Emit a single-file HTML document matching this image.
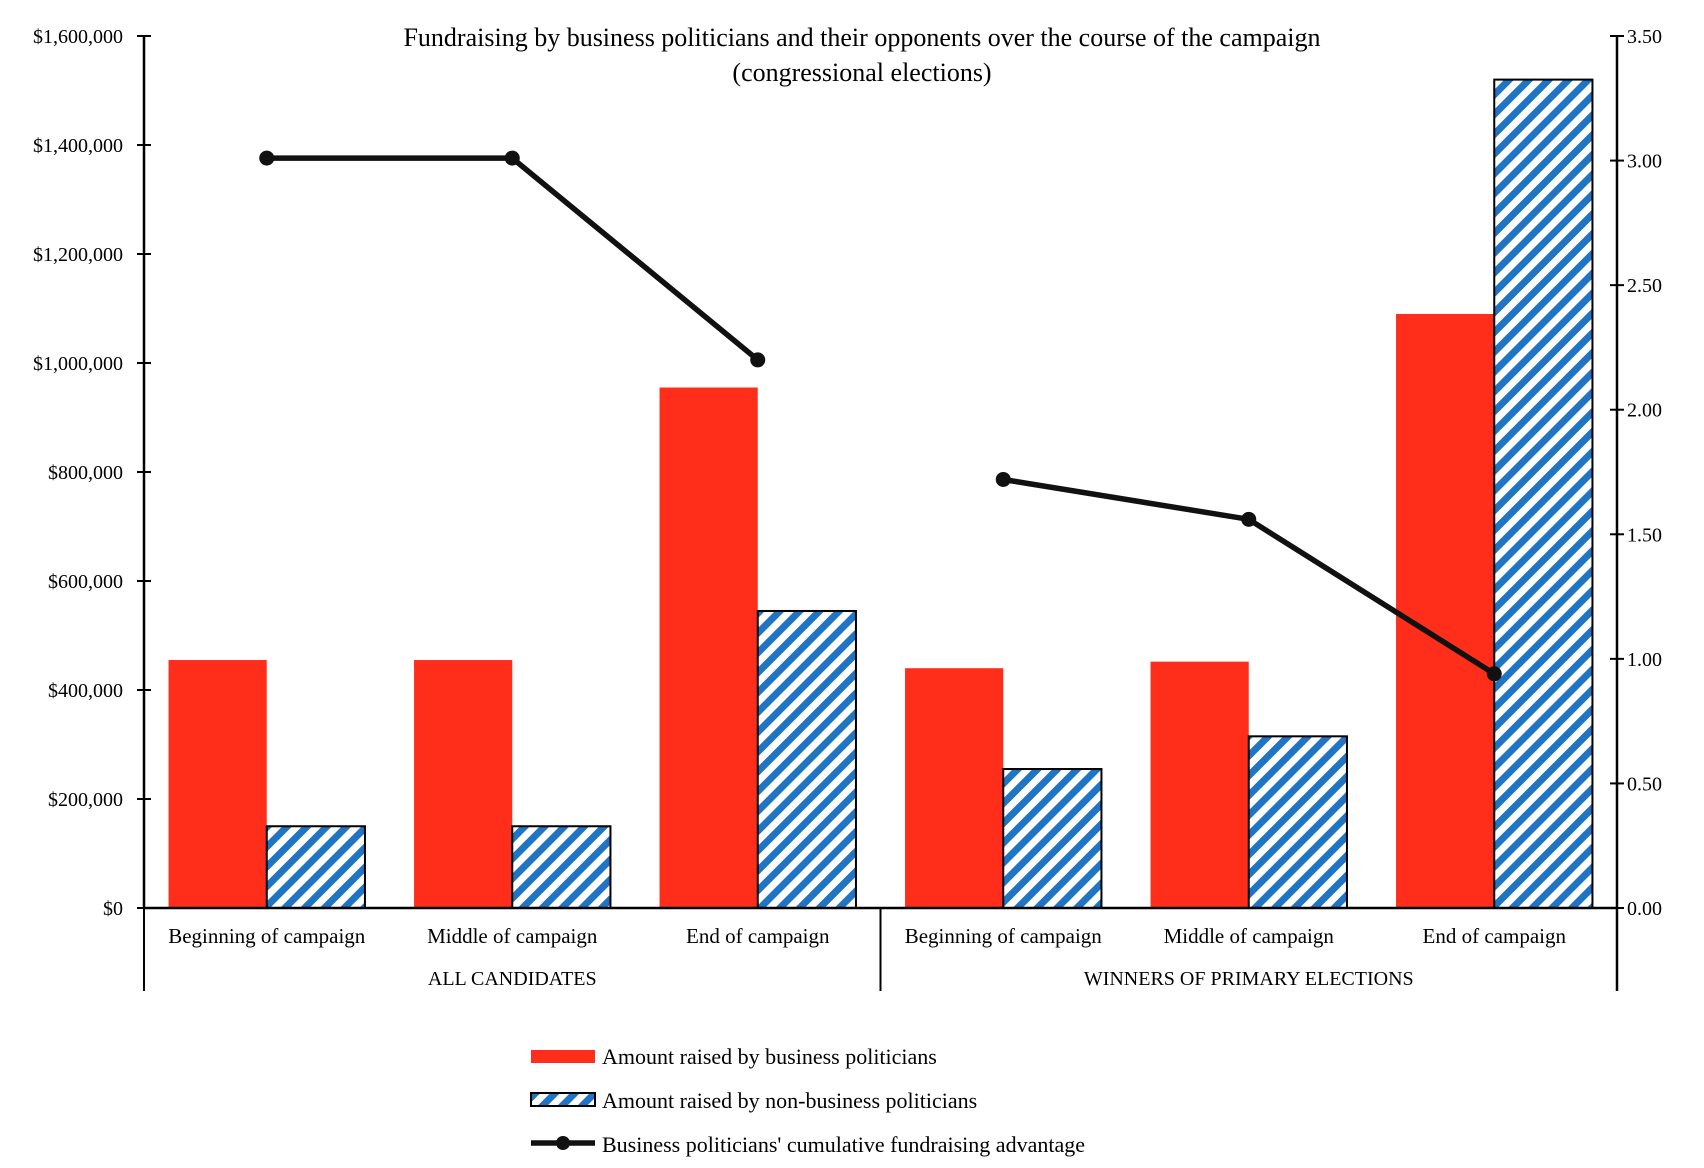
<!DOCTYPE html>
<html><head><meta charset="utf-8"><style>
html,body{margin:0;padding:0;background:#fff}
svg{display:block;font-family:"Liberation Serif",serif}
</style></head><body>
<svg id="chart" width="1704" height="1168" viewBox="0 0 1704 1168">
<defs>
<pattern id="stripes" patternUnits="userSpaceOnUse" width="14" height="14" patternTransform="rotate(45)">
<rect width="14" height="14" fill="#fff"/>
<rect width="7" height="14" fill="#1f74c4"/>
</pattern>
</defs>
<text x="862" y="46" font-size="26" text-anchor="middle">Fundraising by business politicians and their opponents over the course of the campaign</text>
<text x="862" y="81" font-size="26" text-anchor="middle">(congressional elections)</text>
<g id="plot"></g>
</svg>
<script>
const categories = ["Beginning of campaign","Middle of campaign","End of campaign","Beginning of campaign","Middle of campaign","End of campaign"];
const groups = ["ALL CANDIDATES","WINNERS OF PRIMARY ELECTIONS"];
const businessValues = [455000,455000,955000,440000,452000,1090000];
const nonBusinessValues = [150000,150000,545000,255000,315000,1520000];
const advantageValues = [3.01,3.01,2.20,1.72,1.56,0.94];
const leftTicks = [0,200000,400000,600000,800000,1000000,1200000,1400000,1600000];
const rightTicks = [0,0.5,1,1.5,2,2.5,3,3.5];

const NS="http://www.w3.org/2000/svg";
const g=document.getElementById('plot');
const X0=144,X1=1617,Y0=908,Y1=36;
const catW=(X1-X0)/categories.length;
const yL=v=>Y0-(v/1600000)*(Y0-Y1);
const yR=v=>Y0-(v/3.5)*(Y0-Y1);
const xc=i=>X0+catW*(i+0.5);
function mk(tag,attrs,parent){const e=document.createElementNS(NS,tag);for(const k in attrs)e.setAttribute(k,attrs[k]);(parent||g).appendChild(e);return e;}
const fmt=v=>"$"+v.toLocaleString("en-US");

// bars
businessValues.forEach((v,i)=>{
  const r=mk('rect',{x:xc(i)-catW*0.4,y:yL(v),width:catW*0.4,height:Y0-yL(v),fill:'#ff2e1a'});
  
  
});
nonBusinessValues.forEach((v,i)=>{
  const r=mk('rect',{x:xc(i),y:yL(v),width:catW*0.4,height:Y0-yL(v),fill:'url(#stripes)',stroke:'#000','stroke-width':2});
  
  
});
// axes
const ax=mk('line',{x1:X0,y1:Y1,x2:X0,y2:Y0,stroke:'#000','stroke-width':2.5});


const ax2=mk('line',{x1:X1,y1:Y1,x2:X1,y2:Y0+83,stroke:'#000','stroke-width':2.5});


const xa=mk('line',{x1:X0,y1:Y0,x2:X1,y2:Y0,stroke:'#000','stroke-width':2.5});


[X0,X0+catW*3].forEach((x,k)=>{
  const d=mk('line',{x1:x,y1:Y0,x2:x,y2:Y0+83,stroke:'#000','stroke-width':2});
  
  
});
leftTicks.forEach(v=>{
  mk('line',{x1:X0-7,y1:yL(v),x2:X0+7,y2:yL(v),stroke:'#000','stroke-width':2});
  const t=mk('text',{x:123,y:yL(v)+7,'font-size':20,'text-anchor':'end'});
  t.textContent=fmt(v);
  
  
});
rightTicks.forEach(v=>{
  mk('line',{x1:X1-7,y1:yR(v),x2:X1+7,y2:yR(v),stroke:'#000','stroke-width':2});
  const t=mk('text',{x:1627,y:yR(v)+7,'font-size':20});
  t.textContent=v.toFixed(2);
  
  
});
categories.forEach((c,i)=>{
  const t=mk('text',{x:xc(i),y:943,'font-size':21,'text-anchor':'middle'});
  t.textContent=c;
  
  
});
groups.forEach((c,k)=>{
  const t=mk('text',{x:X0+catW*(1.5+3*k),y:985,'font-size':20,'text-anchor':'middle'});
  t.textContent=c;
  
  
});
// lines
[[0,1,2],[3,4,5]].forEach((idx,k)=>{
  const pl=mk('polyline',{points:idx.map(i=>xc(i)+','+yR(advantageValues[i])).join(' '),fill:'none',stroke:'#111','stroke-width':5.5});
  
  
  idx.forEach(i=>{
    const c=mk('circle',{cx:xc(i),cy:yR(advantageValues[i]),r:7.5,fill:'#111'});
    
    
  });
});
// legend
const lg=mk('g',{});


const s1=mk('rect',{x:531,y:1050,width:64,height:13,fill:'#ff2e1a'},lg);


const s2=mk('rect',{x:531,y:1093,width:64,height:13,fill:'url(#stripes)',stroke:'#000','stroke-width':2},lg);


const s3=mk('line',{x1:531,y1:1143,x2:595,y2:1143,stroke:'#111','stroke-width':5.5},lg);


mk('circle',{cx:563,cy:1143,r:7,fill:'#111'},lg);
["Amount raised by business politicians","Amount raised by non-business politicians","Business politicians' cumulative fundraising advantage"].forEach((s,k)=>{
  const t=mk('text',{x:602,y:1064+k*44,'font-size':22},lg);
  t.textContent=s;
  
  
});
</script>
</body></html>
